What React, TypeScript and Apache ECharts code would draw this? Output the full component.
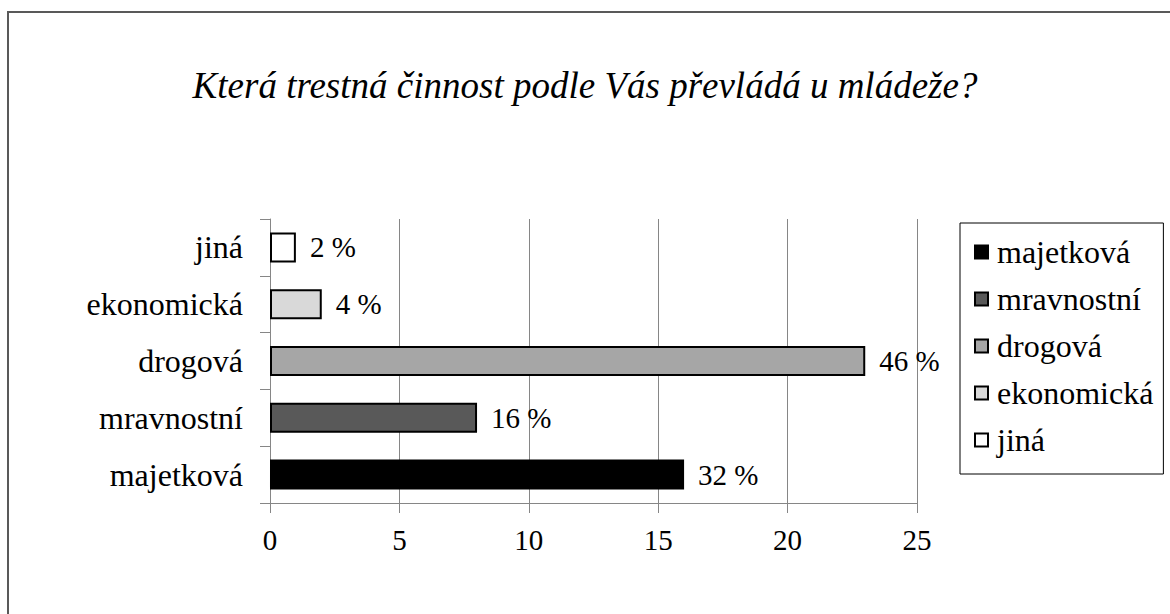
import React, { useEffect, useRef } from "react";
import * as echarts from "echarts";

const titleText = "Která trestná činnost podle Vás převládá u mládeže?";
const categories = ["majetková", "mravnostní", "drogová", "ekonomická", "jiná"];
const values = [16, 8, 23, 2, 1];
const percentLabels = ["32 %", "16 %", "46 %", "4 %", "2 %"];
const colors = ["#000000", "#595959", "#a6a6a6", "#d9d9d9", "#ffffff"];
const xTicks = { min: 0, max: 25, interval: 5 };

const FONT = "'Liberation Serif', 'Times New Roman', serif";

export default function App() {
  const ref = useRef<HTMLDivElement>(null);
  useEffect(() => {
    if (!ref.current) return;
    const chart = echarts.init(ref.current, null, { renderer: "svg" });
    const series = categories.map((name, i) => ({
      name,
      type: "bar",
      stack: "all",
      barWidth: 30,
      data: categories.map((_, j) => (j === i ? values[i] : null)),
      itemStyle: { color: colors[i], borderColor: "#000", borderWidth: 2 },
      label: {
        show: true,
        position: "right",
        distance: 14,
        formatter: (p: any) => percentLabels[p.dataIndex],
        color: "#000",
        fontFamily: FONT,
        fontSize: 29,
      },
    }));
    chart.setOption({
      animation: false,
      backgroundColor: "#fff",
      title: {
        text: titleText,
        left: "center",
        top: 62,
        textStyle: {
          fontFamily: FONT,
          fontStyle: "italic",
          fontWeight: "normal",
          fontSize: 37,
          color: "#000",
        },
      },
      graphic: [
        {
          type: "rect",
          shape: { x: 8, y: 12, width: 1200, height: 700 },
          style: { fill: "none", stroke: "#595959", lineWidth: 2 },
          silent: true,
        },
      ],
      legend: {
        orient: "vertical",
        left: 960,
        top: 223,
        data: categories,
        icon: "rect",
        itemWidth: 13,
        itemHeight: 13,
        itemGap: 15,
        borderColor: "#000",
        borderWidth: 1,
        padding: [13, 10, 18, 14],
        textStyle: {
          fontFamily: FONT,
          fontSize: 32,
          color: "#000",
          padding: [0, 0, 0, 4],
        },
      },
      grid: { left: 270, right: 253, top: 219, bottom: 111, containLabel: false },
      xAxis: {
        type: "value",
        min: xTicks.min,
        max: xTicks.max,
        interval: xTicks.interval,
        axisLine: { show: true, lineStyle: { color: "#868686", width: 1 } },
        axisTick: { show: true, length: 10, lineStyle: { color: "#868686" } },
        splitLine: { show: true, lineStyle: { color: "#868686", width: 1 } },
        axisLabel: { fontFamily: FONT, fontSize: 29, color: "#000", margin: 22 },
      },
      yAxis: {
        type: "category",
        data: categories,
        axisLine: { show: true, lineStyle: { color: "#868686", width: 1 } },
        axisTick: { show: true, length: 10, lineStyle: { color: "#868686" } },
        axisLabel: { fontFamily: FONT, fontSize: 32, color: "#000", margin: 27 },
      },
      series,
    });
    return () => chart.dispose();
  }, []);
  return (
    <div
      ref={ref}
      style={{ position: "absolute", left: 0, top: 0, width: 1170, height: 614 }}
    />
  );
}
